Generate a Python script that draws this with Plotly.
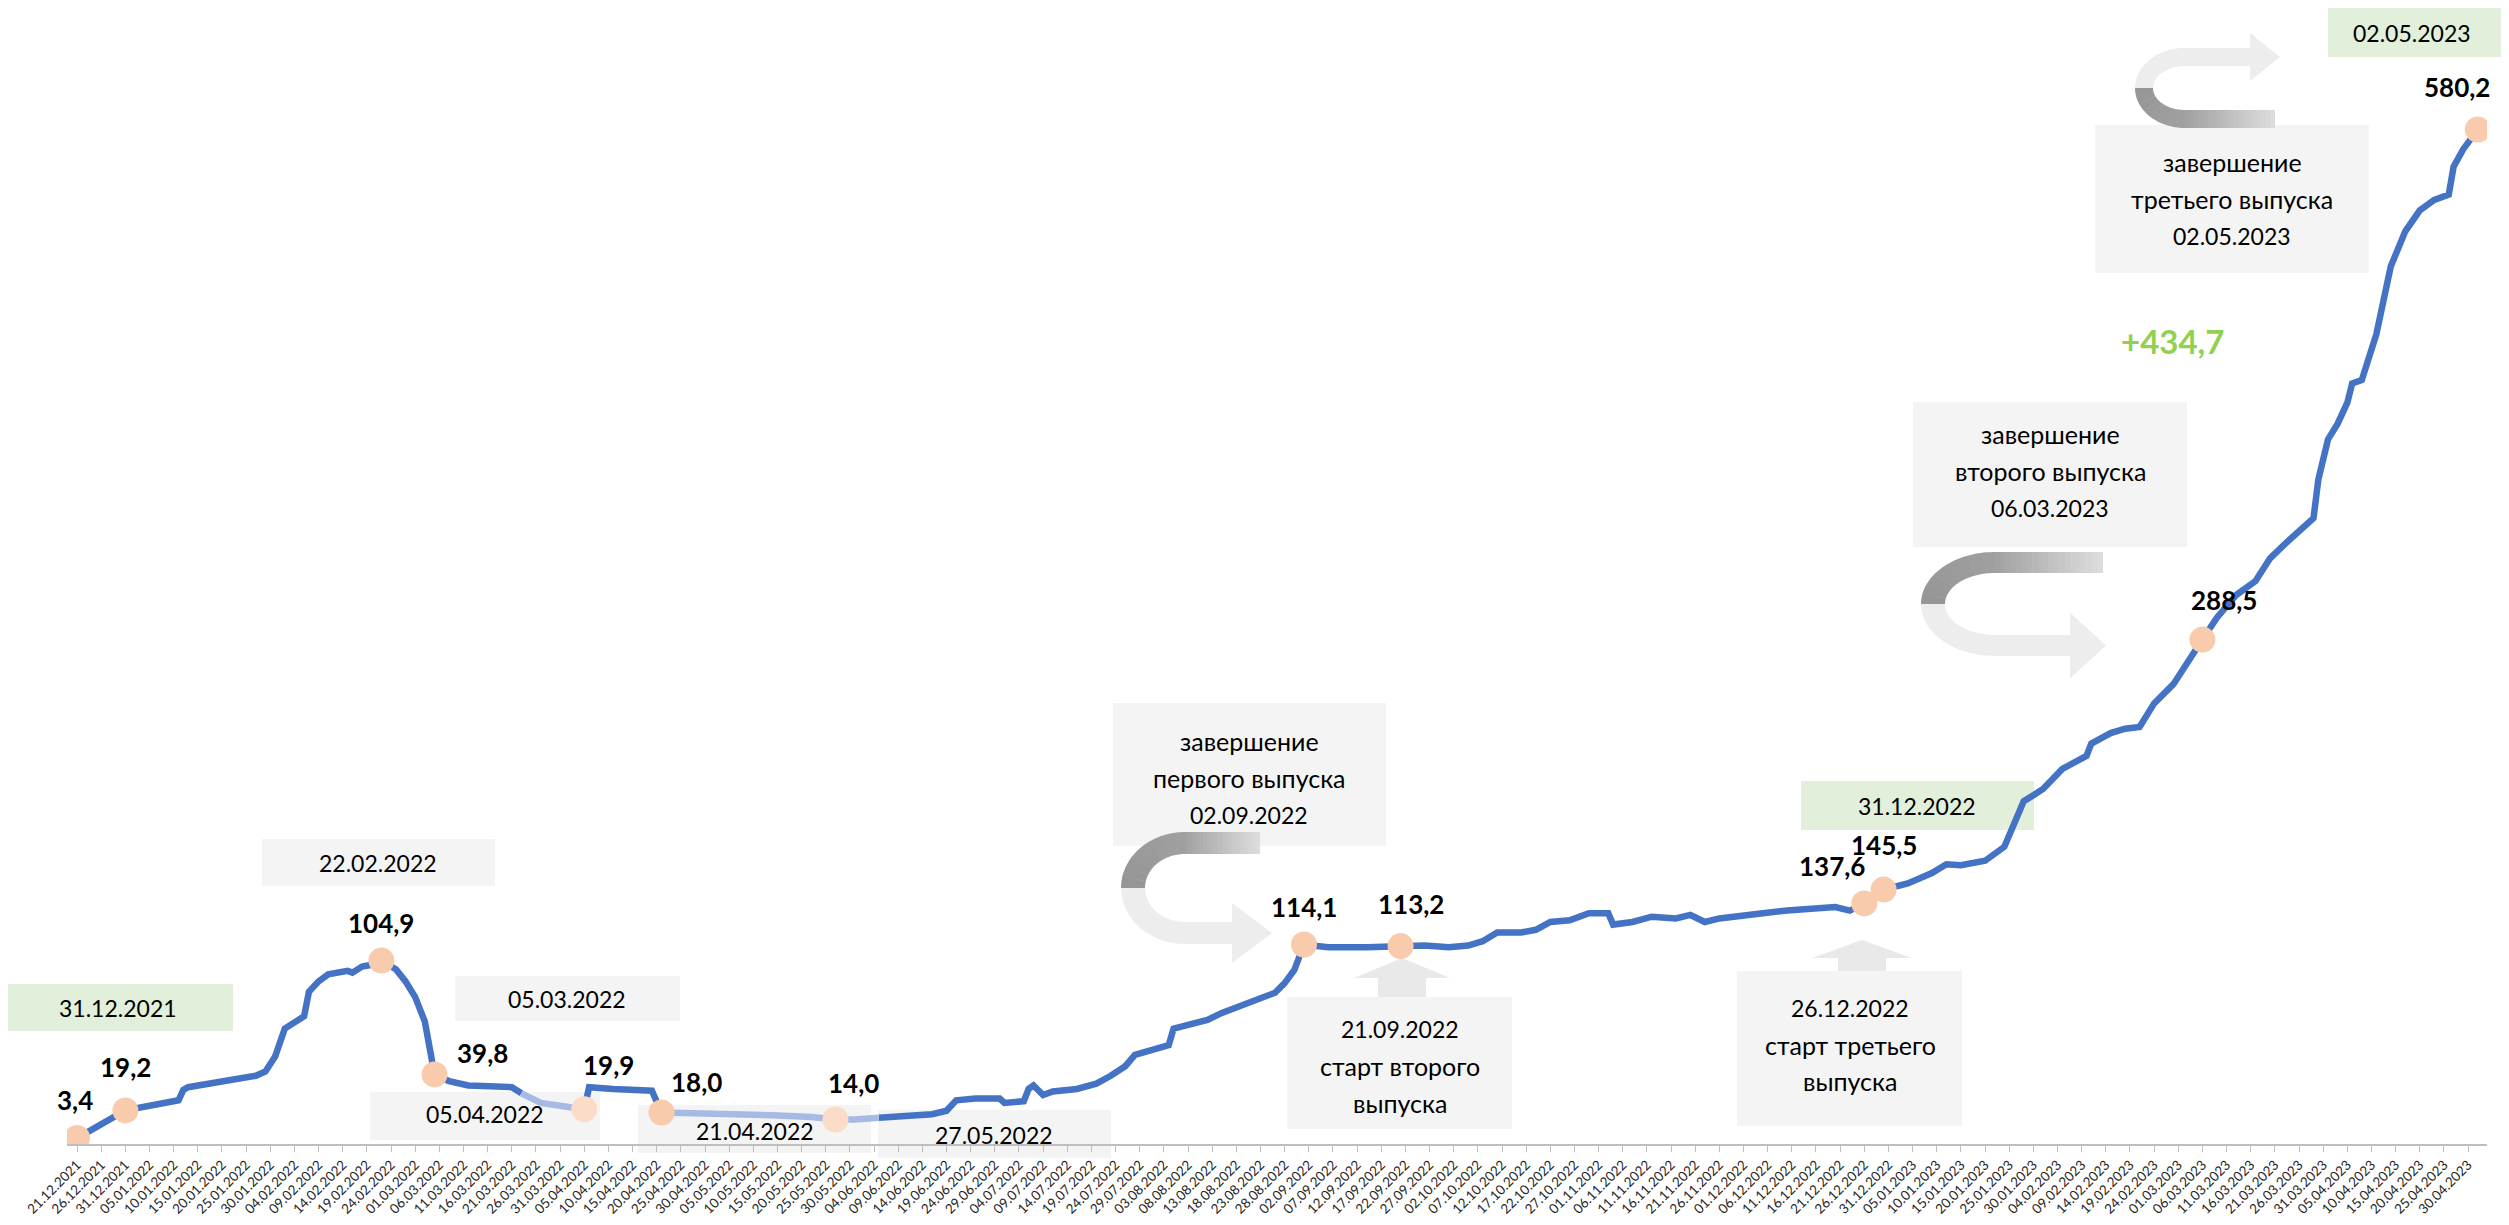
import numpy as np
import plotly.graph_objects as go

# ---------------- data ----------------
dates = [
    "2021-12-21", "2021-12-31", "2022-01-11", "2022-01-12", "2022-01-13", "2022-01-19",
    "2022-01-24", "2022-01-27", "2022-01-29", "2022-01-31", "2022-02-02", "2022-02-04",
    "2022-02-06", "2022-02-07", "2022-02-09", "2022-02-11", "2022-02-15", "2022-02-16",
    "2022-02-18", "2022-02-20", "2022-02-22", "2022-02-25", "2022-02-27", "2022-03-01",
    "2022-03-03", "2022-03-05", "2022-03-08", "2022-03-12", "2022-03-17", "2022-03-21",
    "2022-03-23", "2022-03-27", "2022-04-01", "2022-04-05", "2022-04-06", "2022-04-11",
    "2022-04-16", "2022-04-19", "2022-04-21", "2022-05-01", "2022-05-14", "2022-05-22",
    "2022-05-27", "2022-05-31", "2022-06-05", "2022-06-11", "2022-06-16", "2022-06-19",
    "2022-06-21", "2022-06-25", "2022-06-30", "2022-07-01", "2022-07-05", "2022-07-06",
    "2022-07-07", "2022-07-09", "2022-07-11", "2022-07-16", "2022-07-20", "2022-07-23",
    "2022-07-26", "2022-07-28", "2022-08-01", "2022-08-04", "2022-08-05", "2022-08-09",
    "2022-08-12", "2022-08-15", "2022-08-19", "2022-08-23", "2022-08-26", "2022-08-28",
    "2022-08-30", "2022-09-01", "2022-09-06", "2022-09-14", "2022-09-21", "2022-09-26",
    "2022-10-01", "2022-10-05", "2022-10-08", "2022-10-11", "2022-10-16", "2022-10-19",
    "2022-10-22", "2022-10-26", "2022-10-30", "2022-11-03", "2022-11-04", "2022-11-08",
    "2022-11-12", "2022-11-17", "2022-11-20", "2022-11-23", "2022-11-26", "2022-11-30",
    "2022-12-05", "2022-12-10", "2022-12-15", "2022-12-20", "2022-12-23", "2022-12-26",
    "2022-12-30", "2023-01-04", "2023-01-09", "2023-01-12", "2023-01-15", "2023-01-20",
    "2023-01-24", "2023-01-26", "2023-01-28", "2023-02-01", "2023-02-05", "2023-02-10",
    "2023-02-11", "2023-02-15", "2023-02-18", "2023-02-21", "2023-02-24", "2023-02-28",
    "2023-03-03", "2023-03-06", "2023-03-09", "2023-03-13", "2023-03-17", "2023-03-20",
    "2023-03-23", "2023-03-27", "2023-03-29", "2023-03-30", "2023-04-01", "2023-04-03",
    "2023-04-05", "2023-04-06", "2023-04-08", "2023-04-11", "2023-04-14", "2023-04-17",
    "2023-04-20", "2023-04-23", "2023-04-26", "2023-04-27", "2023-04-29", "2023-05-02",
]
values = [
    3.4, 19.2, 25, 31, 32.5, 35,
    37, 39, 41.5, 50, 66, 70,
    73, 87, 93, 97, 99, 98,
    101.5, 102.5, 104.9, 100, 93, 84,
    70, 39.8, 36, 33.5, 32.5, 32.5,
    29, 23.5, 21.5, 19.9, 32.5, 31.5,
    30.5, 30.5, 18.0, 17.5, 16.5, 15.5,
    14.0, 14, 15, 16, 17, 19,
    25, 26, 26, 23.5, 24.5, 31.5,
    33.5, 28, 30, 31.5, 34.5, 39,
    44.5, 51, 54, 56.5, 66, 68.5,
    71, 75, 79.5, 83, 86.5, 92,
    99.5, 114.1, 112.5, 112.5, 113.2, 113.5,
    112.5, 113.5, 116, 121, 121, 122.5,
    127, 128, 132, 132, 125.5, 127,
    130, 129, 131, 127, 129, 130,
    132, 133.5, 134.5, 135.5, 133.5, 137.6,
    145.5, 149, 155, 160, 159.5, 162,
    170, 183, 196, 203, 214.5, 222,
    229, 235, 237.5, 238.5, 252, 263,
    275, 288.5, 301, 314, 322, 335,
    343, 352.5, 358, 380, 403, 412,
    424, 435, 437, 463, 502, 522,
    534, 540, 543, 559, 569, 580.2,
]
faded_ranges = [("2022-03-23", "2022-04-05"), ("2022-04-21", "2022-06-05")]

marker_dates = ["2021-12-21", "2021-12-31", "2022-02-22", "2022-03-05", "2022-04-05",
                "2022-04-21", "2022-05-27", "2022-09-01", "2022-09-21", "2022-12-26",
                "2022-12-30", "2023-03-06", "2023-05-02"]
marker_values = [3.4, 19.2, 104.9, 39.8, 19.9, 18.0, 14.0, 114.1, 113.2, 137.6,
                 145.5, 288.5, 580.2]
marker_labels = ["3,4", "19,2", "104,9", "39,8", "19,9", "18,0", "14,0", "114,1",
                 "113,2", "137,6", "145,5", "288,5", "580,2"]
growth_label = "+434,7"

# ---------------- layout constants ----------------
OFF = 8                      # default page margin of the html body
W, H = 2509 - OFF, 1225 - OFF
PLOT_L, PLOT_R, PLOT_T, PLOT_B = 67, 2487, 60, 1144   # plot area in page pixels
PW, PH = PLOT_R - PLOT_L, PLOT_B - PLOT_T
FONT = "Lato, 'Noto Sans', sans-serif"
BLUE = "#4472C4"
BLUE_FADED = "#A7BAE4"
PEACH = "#F8CBAD"
GRAY_BOX = "#F4F4F4"
GREEN_BOX = "#E2EFDA"

label_shift = [(-2, 38), (0, 43), (0, 38), (48, 21), (24, 44), (35, 31), (18, 37),
               (0, 38), (10, 42), (-32, 37), (0, 45), (22, 40), (-21, 43)]
faded_markers = {"2022-04-05", "2022-05-27"}


def P(px, py):
    return (px - PLOT_L) / PW, (PLOT_B - py) / PH


def path(points):
    s = ""
    for i, (px, py) in enumerate(points):
        x, y = P(px, py)
        s += ("M" if i == 0 else "L") + f"{x:.5f},{y:.5f} "
    return s + "Z"


# ---------------- traces ----------------
d = np.array(dates, dtype="datetime64[D]")
inside = np.zeros(len(d), bool)
in_fade = np.zeros(len(d), bool)
for a, b in faded_ranges:
    a, b = np.datetime64(a), np.datetime64(b)
    inside |= (d > a) & (d < b)
    in_fade |= (d >= a) & (d <= b)

dark_y = [v if not inside[i] else None for i, v in enumerate(values)]
light_y = [v if in_fade[i] else None for i, v in enumerate(values)]

fig = go.Figure()
fig.add_trace(go.Scatter(x=dates, y=dark_y, mode="lines", connectgaps=False,
                         line=dict(color=BLUE, width=6.5), hoverinfo="skip"))
fig.add_trace(go.Scatter(x=dates, y=light_y, mode="lines", connectgaps=False,
                         line=dict(color=BLUE_FADED, width=6.5), hoverinfo="skip"))
mcolors = ["#FADCC9" if md in faded_markers else PEACH for md in marker_dates]
fig.add_trace(go.Scatter(x=marker_dates, y=marker_values, mode="markers",
                         marker=dict(size=26, color=mcolors), hoverinfo="skip"))

annotations = []
for md, mv, ml, (dx, dy) in zip(marker_dates, marker_values, marker_labels, label_shift):
    annotations.append(dict(x=md, y=mv, xref="x", yref="y", text=ml, showarrow=False,
                            xshift=dx, yshift=dy,
                            font=dict(family=FONT, size=26, color="#000000", weight="bold")))

shapes = []


def box(x0, y0, x1, y1, color):
    a = P(x0, y1)
    b = P(x1, y0)
    shapes.append(dict(type="rect", xref="paper", yref="paper", x0=a[0], y0=a[1],
                       x1=b[0], y1=b[1], fillcolor=color, line=dict(width=0),
                       layer="below"))


def text(px, py, s, size=23, color="#000000", weight="normal"):
    x, y = P(px, py)
    annotations.append(dict(x=x, y=y, xref="paper", yref="paper", text=s,
                            showarrow=False, xanchor="center", yanchor="middle",
                            font=dict(family=FONT, size=size, color=color, weight=weight)))


def lines(px, ys, texts, sizes):
    for y, t, s in zip(ys, texts, sizes):
        text(px, y, t, size=s)


CY, DT = 25, 23     # sizes for cyrillic lines / date lines

# date boxes
box(3, 984, 233, 1031, GREEN_BOX); text(118, 1008, "31.12.2021")
box(262, 839, 495, 886, GRAY_BOX); text(378, 863, "22.02.2022")
box(455, 976, 680, 1021, GRAY_BOX); text(567, 999, "05.03.2022")
box(370, 1092, 600, 1140, GRAY_BOX); text(485, 1114, "05.04.2022")
box(638, 1105, 871, 1153, GRAY_BOX); text(755, 1131, "21.04.2022")
box(878, 1110, 1111, 1158, GRAY_BOX); text(994, 1135, "27.05.2022")
box(1801, 781, 2034, 830, GREEN_BOX); text(1917, 806, "31.12.2022")
box(2328, 8, 2509, 57, GREEN_BOX); text(2412, 33, "02.05.2023")

# multi-line boxes
box(1113, 703, 1386, 846, GRAY_BOX)
lines(1249, [741, 778, 815], ["завершение", "первого выпуска", "02.09.2022"], [CY, CY, DT])
box(1287, 997, 1512, 1129, GRAY_BOX)
lines(1400, [1029, 1066, 1103], ["21.09.2022", "старт второго", "выпуска"], [DT, CY, CY])
box(1737, 971, 1962, 1126, GRAY_BOX)
lines(1850, [1008, 1045, 1081], ["26.12.2022", "старт третьего", "выпуска"], [DT, CY, CY])
box(1913, 402, 2187, 547, GRAY_BOX)
lines(2050, [434, 471, 508], ["завершение", "второго выпуска", "06.03.2023"], [CY, CY, DT])
box(2095, 125, 2369, 273, GRAY_BOX)
lines(2232, [162, 199, 236], ["завершение", "третьего выпуска", "02.05.2023"], [CY, CY, DT])

text(2172, 341, growth_label, size=33, color="#92D050", weight="bold")


def gray(level):
    v = int(round(level))
    return f"rgb({v},{v},{v})"


# curved (u-turn) arrows
def curved_arrow(cx, cy, rxo, ryo, rxi, ryi, x_end, x_base, x_tip, hh, flip=False,
                 light="#EDEDED"):
    s = -1 if flip else 1
    ymid = cy + s * (ryo + ryi) / 2
    # light lower half with head
    th2 = np.linspace(np.pi, 1.5 * np.pi, 24)
    outer2 = [(cx + rxo * np.cos(t), cy - s * ryo * np.sin(t)) for t in th2]
    inner2 = [(cx + rxi * np.cos(t), cy - s * ryi * np.sin(t)) for t in th2[::-1]]
    pts_light = (outer2 + [(x_base, cy + s * ryo), (x_base, ymid + s * hh), (x_tip, ymid),
                           (x_base, ymid - s * hh), (x_base, cy + s * ryi)] + inner2)
    shapes.append(dict(type="path", xref="paper", yref="paper", path=path(pts_light),
                       fillcolor=light, line=dict(width=0), layer="below"))
    # darker upper half: arc, then straight band fading to the right
    n_arc = 8
    for k in range(n_arc):
        t0 = np.pi - (np.pi / 2) * k / n_arc
        t1 = np.pi - (np.pi / 2) * (k + 1) / n_arc - 0.01
        th = np.linspace(t0, t1, 6)
        o = [(cx + rxo * np.cos(t), cy - s * ryo * np.sin(t)) for t in th]
        i = [(cx + rxi * np.cos(t), cy - s * ryi * np.sin(t)) for t in th[::-1]]
        shapes.append(dict(type="path", xref="paper", yref="paper", path=path(o + i),
                           fillcolor=gray(150 + 10 * k / n_arc), line=dict(width=0),
                           layer="below"))
    n = 20
    for k in range(n):
        xa = cx + (x_end - cx) * k / n - 0.6
        xb = cx + (x_end - cx) * (k + 1) / n
        pts = [(xa, cy - s * ryo), (xb, cy - s * ryo), (xb, cy - s * ryi), (xa, cy - s * ryi)]
        shapes.append(dict(type="path", xref="paper", yref="paper", path=path(pts),
                           fillcolor=gray(160 + 62 * (k + 0.5) / n), line=dict(width=0),
                           layer="below"))


curved_arrow(1185, 888, 64, 56, 40, 34, 1260, 1232, 1272, 30)
curved_arrow(1995, 604, 74, 52, 50, 31, 2103, 2070, 2106, 33)
curved_arrow(2185, 88, 50, 40, 32, 22, 2275, 2250, 2280, 24, flip=True)


def up_arrow(xc, ytip, yb, hw, sw, ybot, col="#E9E9E9"):
    pts = [(xc, ytip), (xc + hw, yb), (xc + sw, yb), (xc + sw, ybot), (xc - sw, ybot),
           (xc - sw, yb), (xc - hw, yb)]
    shapes.append(dict(type="path", xref="paper", yref="paper", path=path(pts),
                       fillcolor=col, line=dict(width=0), layer="below"))


up_arrow(1402, 958, 978, 48, 24, 997)
up_arrow(1862, 940, 958, 50, 24, 971)

fig.update_layout(
    width=W, height=H,
    margin=dict(l=PLOT_L - OFF, r=W - (PLOT_R - OFF), t=PLOT_T - OFF, b=H - (PLOT_B - OFF)),
    paper_bgcolor="white", plot_bgcolor="rgba(0,0,0,0)",
    showlegend=False, hovermode=False,
    font=dict(family=FONT, color="#262626"),
    shapes=shapes, annotations=annotations,
    xaxis=dict(type="date", range=["2021-12-18 22:00", "2023-05-03 22:00"],
               tick0="2021-12-21", dtick=5 * 86400000, tickformat="%d.%m.%Y",
               tickangle=-45, tickfont=dict(family=FONT, size=13.5, color="#262626"),
               showgrid=False, zeroline=False, showline=True, linecolor="#BFBFBF",
               linewidth=1.5, ticks="outside", ticklen=6, tickcolor="#BFBFBF",
               automargin=False),
    yaxis=dict(range=[0, 620], visible=False, showgrid=False, zeroline=False),
)

fig.write_html("out.html")
